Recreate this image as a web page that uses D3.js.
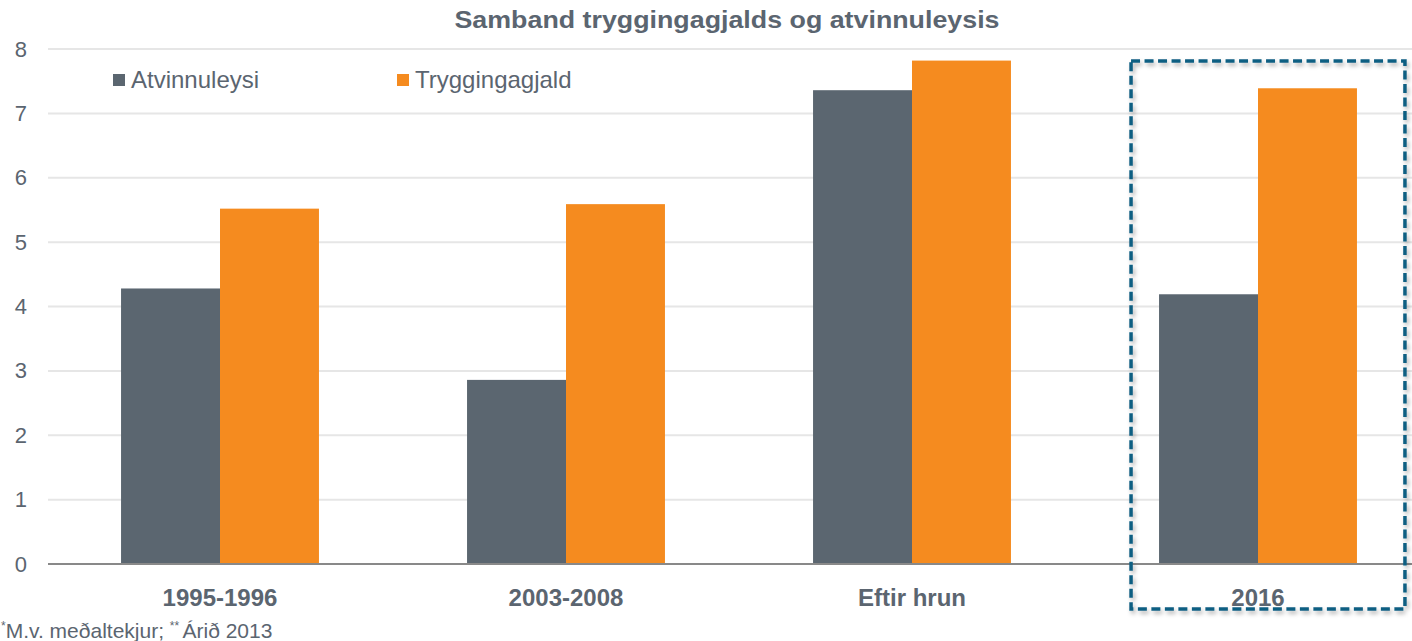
<!DOCTYPE html>
<html>
<head>
<meta charset="utf-8">
<script src="https://cdn.jsdelivr.net/npm/d3@7"></script>
<style>
  body { margin:0; background:#fff; }
  svg text { font-family:"Liberation Sans", Arial, sans-serif; fill:#5b6570; }
</style>
</head>
<body>
<svg id="chart" width="1412" height="641"></svg>
<script>
// data
var categories = ["1995-1996","2003-2008","Eftir hrun","2016"];
var seriesNames = ["Atvinnuleysi","Tryggingagjald"];
var atvinnuleysi = [4.28, 2.86, 7.36, 4.19];
var tryggingagjald = [5.52, 5.59, 7.82, 7.39];
var yTicks = [0,1,2,3,4,5,6,7,8];
var titleText = "Samband tryggingagjalds og atvinnuleysis";
var highlighted = "2016";

var colors = {Atvinnuleysi:"#5b6670", Tryggingagjald:"#f58b1f"};

var svg = d3.select("#chart");

// layout
var margins = {top:49, bottom:77, left:47, right:-19};
var screen = {width:1412, height:641};
var graph = {
    width: screen.width - margins.left - margins.right,
    height: screen.height - margins.top - margins.bottom
};

var xScale = d3.scaleBand()
    .domain(categories)
    .range([margins.left, margins.left + graph.width])
    .paddingInner(0.428)
    .paddingOuter(0.214);

var xInner = d3.scaleBand()
    .domain(seriesNames)
    .range([0, xScale.bandwidth()]);

var yScale = d3.scaleLinear()
    .domain([0, 8])
    .range([margins.top + graph.height, margins.top]);

var rows = categories.map(function(c, i) {
    return {cat:c, values:[
        {name:"Atvinnuleysi", value:atvinnuleysi[i]},
        {name:"Tryggingagjald", value:tryggingagjald[i]}
    ]};
});

// gridlines
svg.append("g")
    .selectAll("line")
    .data(yTicks.filter(function(t){ return t > 0; }))
    .enter()
    .append("line")
    .attr("x1", margins.left + 1)
    .attr("x2", screen.width)
    .attr("y1", function(t){ return yScale(t); })
    .attr("y2", function(t){ return yScale(t); })
    .attr("stroke", "#e6e6e6")
    .attr("stroke-width", 2);

// y axis labels
var yAxis = d3.axisLeft(yScale).tickValues(yTicks).tickSize(0).tickPadding(0);
var yG = svg.append("g")
    .attr("transform", "translate(27,0)")
    .call(yAxis);
yG.select(".domain").remove();
yG.selectAll("text")
    .attr("font-size", 22)
    .attr("fill", "#5b6570")
    .style("font-family", "'Liberation Sans', Arial, sans-serif");

// bars
var groups = svg.append("g")
    .selectAll("g")
    .data(rows)
    .enter()
    .append("g")
    .attr("transform", function(d){ return "translate(" + xScale(d.cat) + ",0)"; });

groups.selectAll("rect")
    .data(function(d){ return d.values; })
    .enter()
    .append("rect")
    .attr("x", function(v){ return xInner(v.name); })
    .attr("width", xInner.bandwidth())
    .attr("y", function(v){ return yScale(v.value); })
    .attr("height", function(v){ return yScale(0) - yScale(v.value); })
    .attr("fill", function(v){ return colors[v.name]; });

// zero line
svg.append("line")
    .attr("x1", margins.left + 1)
    .attr("x2", screen.width)
    .attr("y1", yScale(0))
    .attr("y2", yScale(0))
    .attr("stroke", "#898989")
    .attr("stroke-width", 2);

// x axis labels
var xAxis = d3.axisBottom(xScale).tickSize(0).tickPadding(0);
var xG = svg.append("g")
    .attr("transform", "translate(0," + (yScale(0) + 42) + ")")
    .call(xAxis);
xG.select(".domain").remove();
xG.selectAll("text")
    .attr("font-size", 24)
    .attr("font-weight", "bold")
    .attr("fill", "#5b6570")
    .attr("dy", 0)
    .style("font-family", "'Liberation Sans', Arial, sans-serif");

// title
svg.append("text")
    .attr("x", 727)
    .attr("y", 28)
    .attr("text-anchor", "middle")
    .attr("font-size", 24)
    .attr("font-weight", "bold")
    .attr("textLength", 545)
    .attr("lengthAdjust", "spacingAndGlyphs")
    .text(titleText);

// legend
var legendX = [113, 397];
var legend = svg.append("g")
    .selectAll("g")
    .data(seriesNames)
    .enter()
    .append("g")
    .attr("transform", function(d, i){ return "translate(" + legendX[i] + ",74)"; });
legend.append("rect")
    .attr("width", 12)
    .attr("height", 12)
    .attr("fill", function(d){ return colors[d]; });
legend.append("text")
    .attr("x", 18)
    .attr("y", 14)
    .attr("font-size", 24)
    .text(function(d){ return d; });

// highlight box round 2016
var defs = svg.append("defs");
var filt = defs.append("filter")
    .attr("id", "shadow")
    .attr("x", "-10%").attr("y", "-10%")
    .attr("width", "120%").attr("height", "120%");
filt.append("feDropShadow")
    .attr("dx", 2).attr("dy", 3)
    .attr("stdDeviation", 2)
    .attr("flood-color", "#000")
    .attr("flood-opacity", 0.3);

var bx = xScale(highlighted);
svg.append("rect")
    .attr("x", bx - 28)
    .attr("y", 61)
    .attr("width", xScale.bandwidth() + 76)
    .attr("height", 548)
    .attr("fill", "none")
    .attr("stroke", "#0b5e82")
    .attr("stroke-width", 3.5)
    .attr("stroke-dasharray", "9,4.5")
    .attr("filter", "url(#shadow)");

// footnote
var foot = svg.append("text")
    .attr("x", 1)
    .attr("y", 638)
    .attr("font-size", 21);
foot.append("tspan").attr("font-size", 12).attr("dy", -8).text("*");
foot.append("tspan").attr("dy", 8).text("M.v. meðaltekjur; ");
foot.append("tspan").attr("font-size", 12).attr("dy", -8).text("** ");
foot.append("tspan").attr("dy", 8).text("Árið 2013");
</script>
</body>
</html>
